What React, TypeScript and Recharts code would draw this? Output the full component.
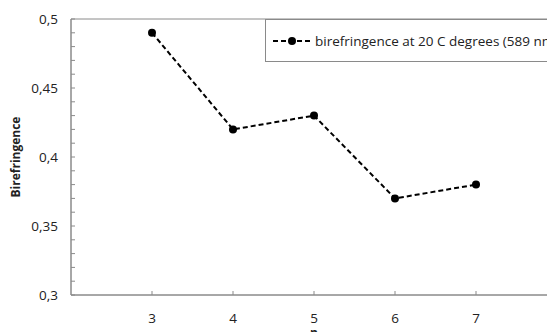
import React from "react";
import {
  LineChart,
  Line,
  XAxis,
  YAxis,
  Legend,
  ReferenceArea,
} from "recharts";

const nValues = [3, 4, 5, 6, 7];
const birefringence = [0.49, 0.42, 0.43, 0.37, 0.38];
const xTicks = [3, 4, 5, 6, 7];
const yMajorTicks = [0.3, 0.35, 0.4, 0.45, 0.5];
const seriesName = "birefringence at 20 C degrees (589 nm)";

const data = nValues.map((n, i) => ({ n, value: birefringence[i] }));

// minor ticks every 0.01 between the major ones
const yAllTicks: number[] = [];
for (let k = 30; k <= 50; k++) yAllTicks.push(k / 100);

const FONT = "'Open Sans', sans-serif";
const AXIS = "#8a8a8a";

const fmt = (v: number) => String(v).replace(".", ",");
const isMajor = (v: number) => yMajorTicks.some((m) => Math.abs(m - v) < 1e-6);

const YTick = (props: any) => {
  const { x, y, payload } = props;
  const v = payload.value as number;
  return (
    <g>
      <line x1={x} y1={y} x2={x + 4} y2={y} stroke={AXIS} strokeWidth={1} />
      {isMajor(v) && (
        <text
          x={x - 13}
          y={y}
          dy="0.35em"
          textAnchor="end"
          fontSize={13.5}
          fontFamily={FONT}
          fill="#222"
        >
          {fmt(v)}
        </text>
      )}
    </g>
  );
};

const XTick = (props: any) => {
  const { x, y, payload } = props;
  return (
    <g>
      <line x1={x} y1={y} x2={x} y2={y - 4} stroke={AXIS} strokeWidth={1} />
      <text
        x={x}
        y={y + 28}
        textAnchor="middle"
        fontSize={13.5}
        fontFamily={FONT}
        fill="#222"
      >
        {payload.value}
      </text>
    </g>
  );
};

const LegendBox = (props: any) => {
  const item = props.payload?.[0];
  return (
    <div
      style={{
        border: `1px solid ${AXIS}`,
        background: "#fff",
        height: 43,
        width: 320,
        boxSizing: "border-box",
        display: "flex",
        alignItems: "center",
        paddingLeft: 7,
        fontFamily: FONT,
        fontSize: 13.5,
        color: "#222",
        whiteSpace: "nowrap",
      }}
    >
      <svg width={38} height={10} style={{ marginRight: 4 }}>
        <line x1={0} y1={5} x2={38} y2={5} stroke="#000" strokeWidth={2} strokeDasharray="5 3" />
        <circle cx={19} cy={5} r={4} fill="#000" />
      </svg>
      <span>{item ? item.value : seriesName}</span>
    </div>
  );
};

export default function App() {
  return (
    <div
      style={{
        position: "fixed",
        left: 0,
        top: 0,
        width: 547,
        height: 332,
        overflow: "hidden",
        background: "#fff",
      }}
    >
      <LineChart
        width={570}
        height={332}
        data={data}
        margin={{ top: 19, right: 13, left: 0, bottom: 0 }}
      >
        <ReferenceArea
          x1={2}
          x2={8}
          y1={0.3}
          y2={0.5}
          fill="none"
          stroke={AXIS}
          strokeWidth={1}
          fillOpacity={0}
        />
        <XAxis
          dataKey="n"
          type="number"
          domain={[2, 8]}
          ticks={xTicks}
          height={37}
          axisLine={{ stroke: AXIS }}
          tickLine={false}
          tickSize={0}
          tickMargin={0}
          tick={<XTick />}
          label={{
            value: "n",
            position: "insideBottom",
            offset: -5,
            fontSize: 12,
            fontWeight: 700,
            fontFamily: FONT,
            fill: "#222",
          }}
        />
        <YAxis
          type="number"
          domain={[0.3, 0.5]}
          ticks={yAllTicks}
          width={71}
          axisLine={{ stroke: AXIS }}
          tickLine={false}
          tickSize={0}
          tickMargin={0}
          interval={0}
          tick={<YTick />}
          label={{
            value: "Birefringence",
            angle: -90,
            position: "insideLeft",
            offset: 16,
            style: { textAnchor: "middle" },
            fontSize: 12,
            fontWeight: 700,
            fontFamily: FONT,
            fill: "#222",
          }}
        />
        <Legend
          layout="horizontal"
          verticalAlign="middle"
          align="center"
          content={<LegendBox />}
          wrapperStyle={{ left: 265, top: 19, width: 320 }}
        />
        <Line
          dataKey="value"
          name={seriesName}
          stroke="#000"
          strokeWidth={2}
          strokeDasharray="5 3"
          dot={{ r: 4, fill: "#000", stroke: "#000", strokeWidth: 0 }}
          activeDot={false}
          isAnimationActive={false}
        />
      </LineChart>
    </div>
  );
}
